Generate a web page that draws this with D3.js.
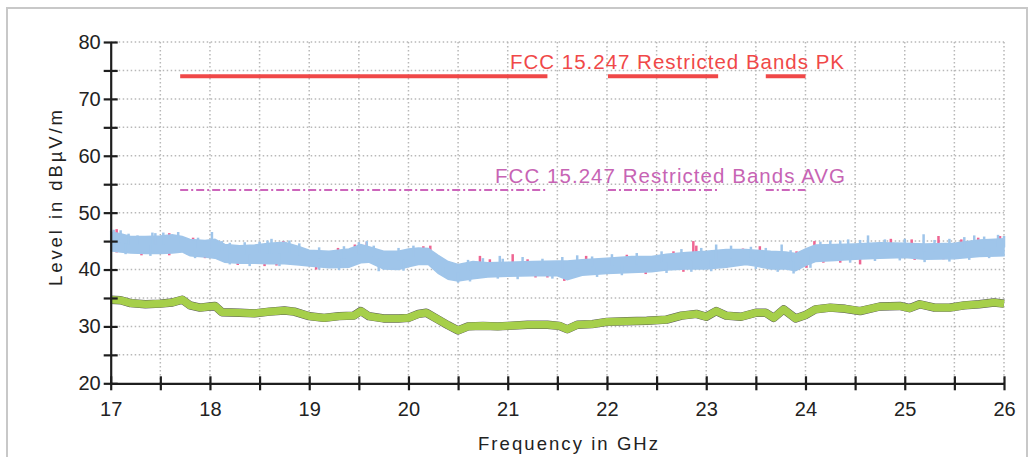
<!DOCTYPE html>
<html>
<head>
<meta charset="utf-8">
<script src="https://d3js.org/d3.v7.min.js"></script>
<style>
    body { margin: 0; background: #fff; }
    svg { display: block; font-family: "Liberation Sans", Arial, Helvetica, sans-serif; }
    .axis path, .axis line { stroke: #1e1e1e; stroke-width: 2.2; }
    .axis text { font-size: 20px; fill: #222; }
    .grid line { stroke: #b8b8b8; stroke-width: 1.5; stroke-dasharray: 1.5, 2.5; }
</style>
</head>
<body>
<script>

    // ==== data ==== //
    var xTicks = [17, 18, 19, 20, 21, 22, 23, 24, 25, 26];
    var yTicks = [20, 30, 40, 50, 60, 70, 80];

    // restricted bands (GHz)
    var bandStart = [17.7, 22.01, 23.6];
    var bandEnd = [21.4, 23.12, 24.0];
    var limitPK = 74;
    var limitAVG = 54;

    // peak trace envelope (blue)
    var pkFreq = [17.0, 17.1, 17.2, 17.35, 17.5, 17.62, 17.72, 17.8, 17.95, 18.05, 18.15, 18.3, 18.45, 18.6, 18.75, 18.9,
        19.0, 19.2, 19.4, 19.52, 19.6, 19.75, 19.9, 20.0, 20.1, 20.2, 20.3, 20.4, 20.5, 20.65, 20.8, 21.0, 21.25, 21.5,
        21.6, 21.75, 22.0, 22.25, 22.45, 22.6, 22.8, 23.0, 23.2, 23.4, 23.5, 23.65, 23.8, 23.9, 24.0, 24.1, 24.3, 24.5,
        24.75, 25.0, 25.2, 25.5, 25.75, 26.0];
    var pkHigh = [46.6, 46.3, 45.8, 45.8, 45.9, 46.1, 45.8, 45.3, 45.1, 45.3, 44.4, 44.2, 44.3, 44.6, 44.8, 44.0,
        43.4, 43.2, 43.6, 44.4, 44.0, 43.2, 43.2, 43.6, 43.8, 43.7, 42.5, 41.4, 40.9, 41.4, 41.2, 41.3, 41.4, 41.5,
        41.5, 41.7, 42.0, 42.3, 42.3, 42.7, 43.0, 43.2, 43.5, 43.5, 43.4, 43.2, 43.1, 42.8, 43.6, 44.3, 44.4, 44.5,
        44.7, 44.6, 44.5, 44.6, 45.2, 45.4];
    var pkLow = [43.3, 43.1, 42.9, 42.8, 42.8, 42.9, 43.1, 42.4, 42.2, 42.0, 41.3, 41.1, 41.1, 41.0, 41.0, 40.8,
        40.6, 40.3, 40.4, 41.2, 41.3, 40.1, 40.0, 40.5, 40.9, 40.9, 39.3, 38.3, 38.0, 38.4, 38.7, 38.8, 38.9, 38.9,
        38.2, 39.0, 39.3, 39.5, 39.6, 39.9, 40.1, 40.1, 40.4, 40.9, 40.6, 40.1, 40.1, 39.8, 40.7, 41.4, 41.6, 41.8,
        42.0, 42.1, 41.8, 41.9, 42.3, 42.4];

    // spikes of the second peak trace (pink) poking out of the band
    var pinkFreq = [17.06, 17.06, 17.31, 17.59, 17.59, 17.83, 17.95, 18.28, 18.55, 18.67, 18.74, 18.87, 19.07, 19.29,
        19.46, 19.58, 19.81, 20.15, 20.22, 20.45, 20.72, 20.82, 21.05, 21.2, 21.28, 21.4, 21.57, 21.6, 21.79, 21.95,
        22.2, 22.39, 22.45, 22.67, 22.77, 22.87, 22.9, 23.2, 23.37, 23.54, 23.91, 24.01, 24.09, 24.18, 24.35, 24.55,
        24.86, 25.07, 25.1, 25.34, 25.39, 25.57, 25.74, 25.96];
    var pinkTip = [47.1, 43.0, 42.5, 46.4, 42.5, 45.6, 42.0, 40.8, 40.6, 40.7, 45.0, 43.8, 40.0, 43.8,
        44.4, 44.8, 43.2, 44.1, 44.2, 38.9, 42.4, 41.8, 42.7, 41.8, 38.6, 38.6, 38.0, 41.2, 42.4, 41.8,
        42.6, 39.2, 39.7, 43.2, 39.6, 45.0, 44.2, 40.3, 43.7, 44.1, 43.2, 40.3, 45.0, 41.2, 41.2, 40.9,
        45.4, 45.3, 41.7, 45.9, 41.8, 45.3, 45.6, 45.9];

    // single samples of the blue trace sticking out of the band
    var blueSpikeFreq = [17.03, 17.1, 17.15, 17.18, 17.27, 17.4, 17.42, 17.45, 17.53, 17.68, 17.85, 17.88, 18.02, 18.12,
        18.2, 18.2, 18.35, 18.4, 18.5, 18.58, 18.62, 18.7, 18.8, 18.9, 19.1, 19.1, 19.3, 19.35, 19.5, 19.58, 19.65,
        19.7, 19.9, 19.95, 20.05, 20.35, 20.5, 20.6, 20.62, 20.75, 20.9, 20.92, 20.95, 21.1, 21.15, 21.35, 21.45,
        21.55, 21.7, 21.85, 21.9, 22.05, 22.15, 22.3, 22.55, 22.6, 22.75, 22.85, 22.95, 23.05, 23.1, 23.25, 23.45,
        23.5, 23.6, 23.72, 23.76, 23.85, 23.88, 24.05, 24.15, 24.25, 24.35, 24.43, 24.45, 24.55, 24.63, 24.7, 24.8,
        24.95, 25.0, 25.19, 25.2, 25.3, 25.45, 25.45, 25.6, 25.65, 25.7, 25.8, 25.85, 25.94, 26.0];
    var blueSpikeTip = [47.0, 46.9, 42.7, 46.3, 46.0, 42.4, 46.5, 46.4, 46.5, 46.6, 42.0, 45.6, 46.6, 45.0,
        44.7, 40.9, 44.8, 40.6, 44.9, 45.1, 45.4, 40.6, 45.1, 44.6, 43.9, 40.0, 39.9, 44.1, 44.8, 45.0, 44.2,
        39.7, 43.8, 39.8, 44.2, 38.9, 37.7, 41.7, 37.9, 42.0, 38.4, 42.4, 41.9, 38.3, 42.2, 41.9, 38.4,
        42.2, 42.5, 42.3, 38.7, 42.7, 39.0, 42.9, 43.2, 39.4, 43.6, 39.6, 43.8, 39.7, 44.4, 44.2, 44.0,
        40.1, 43.8, 39.6, 44.4, 43.4, 39.3, 40.3, 44.9, 45.1, 45.1, 45.3, 41.2, 45.2, 46.0, 41.5, 45.3,
        41.6, 45.4, 46.2, 41.3, 45.2, 45.4, 41.4, 45.7, 41.7, 46.0, 45.8, 42.0, 46.1, 45.9];

    // average trace (green)
    var avFreq = [17.0, 17.1, 17.2, 17.35, 17.5, 17.62, 17.72, 17.8, 17.9, 18.0, 18.05, 18.12, 18.3, 18.45, 18.6, 18.75,
        18.85, 19.0, 19.15, 19.3, 19.45, 19.52, 19.6, 19.75, 19.9, 20.0, 20.1, 20.18, 20.3, 20.4, 20.5, 20.6, 20.75,
        20.9, 21.0, 21.2, 21.4, 21.52, 21.6, 21.7, 21.85, 22.0, 22.2, 22.4, 22.6, 22.75, 22.9, 23.0, 23.1, 23.2, 23.35,
        23.5, 23.6, 23.68, 23.78, 23.9, 24.0, 24.1, 24.25, 24.4, 24.55, 24.75, 24.95, 25.05, 25.15, 25.3, 25.45, 25.6,
        25.75, 25.9, 26.0];
    var avLevel = [34.7, 34.6, 34.1, 33.9, 34.0, 34.2, 34.7, 33.7, 33.3, 33.5, 33.6, 32.5, 32.4, 32.3, 32.6, 32.8,
        32.6, 31.8, 31.5, 31.8, 31.9, 32.7, 31.8, 31.4, 31.4, 31.5, 32.2, 32.4, 31.2, 30.2, 29.3, 30.0, 30.1,
        30.0, 30.1, 30.3, 30.3, 30.1, 29.5, 30.3, 30.4, 30.8, 30.9, 31.0, 31.2, 31.9, 32.2, 31.7, 32.7, 31.9, 31.7,
        32.4, 32.4, 31.5, 33.0, 31.4, 32.0, 33.0, 33.3, 33.1, 32.7, 33.5, 33.6, 33.2, 33.9, 33.3, 33.3, 33.7,
        33.9, 34.2, 34.0];

    // ==== layout ==== //
    var W = 1031, H = 457;
    var plotLeft = 110.7, plotRight = 1004, plotTop = 42, plotBottom = 383.3;

    var svg = d3.select("body").append("svg")
        .attr("width", W)
        .attr("height", H);

    // outer frame
    svg.append("rect")
        .attr("x", 7).attr("y", 8)
        .attr("width", 1020).attr("height", 480)
        .attr("fill", "#fff")
        .attr("stroke", "#c8c8c8")
        .attr("stroke-width", 2);

    var x = d3.scaleLinear().domain([17, 26]).range([plotLeft, plotRight]);
    var y = d3.scaleLinear().domain([20, 80]).range([plotBottom, plotTop]);

    var xAll = d3.range(17, 26.01, 0.5);
    var yAll = d3.range(20, 80.01, 5);

    // grid
    var grid = svg.append("g").attr("class", "grid");
    grid.selectAll(".gx").data(xAll.slice(1)).enter().append("line")
        .attr("x1", function (d) { return x(d); })
        .attr("x2", function (d) { return x(d); })
        .attr("y1", plotTop).attr("y2", plotBottom);
    grid.selectAll(".gy").data(yAll.slice(1)).enter().append("line")
        .attr("x1", plotLeft).attr("x2", plotRight)
        .attr("y1", function (d) { return y(d); })
        .attr("y2", function (d) { return y(d); });

    // limit lines
    var bands = bandStart.map(function (s, i) { return [s, bandEnd[i]]; });

    svg.selectAll(".pk").data(bands).enter().append("line")
        .attr("x1", function (d) { return x(d[0]); })
        .attr("x2", function (d) { return x(d[1]); })
        .attr("y1", y(limitPK)).attr("y2", y(limitPK))
        .attr("stroke", "#f04848")
        .attr("stroke-width", 4);

    svg.selectAll(".avg").data(bands).enter().append("line")
        .attr("x1", function (d) { return x(d[0]); })
        .attr("x2", function (d) { return x(d[1]); })
        .attr("y1", y(limitAVG)).attr("y2", y(limitAVG))
        .attr("stroke", "#cc66bb")
        .attr("stroke-width", 2)
        .attr("stroke-dasharray", "8,3,2,3");

    svg.append("text")
        .attr("x", 510).attr("y", 69)
        .attr("textLength", 334)
        .attr("lengthAdjust", "spacing")
        .style("font-size", "20.5px")
        .style("fill", "#f04848")
        .text("FCC 15.247 Restricted Bands PK");

    svg.append("text")
        .attr("x", 495).attr("y", 183)
        .attr("textLength", 350)
        .attr("lengthAdjust", "spacing")
        .style("font-size", "20.5px")
        .style("fill", "#c764b4")
        .text("FCC 15.247 Restricted Bands AVG");

    // pink trace spikes (behind the blue band)
    var mid = d3.scaleLinear().domain(pkFreq).range(pkFreq.map(function (f, i) { return (pkHigh[i] + pkLow[i]) / 2; }));

    svg.selectAll(".pink").data(pinkFreq).enter().append("line")
        .attr("x1", function (d) { return x(d); })
        .attr("x2", function (d) { return x(d); })
        .attr("y1", function (d) { return y(mid(d)); })
        .attr("y2", function (d, i) { return y(pinkTip[i]); })
        .attr("stroke", "#ee6592")
        .attr("stroke-width", 2.5);

    // blue peak band
    var band = d3.area()
        .x(function (d, i) { return x(pkFreq[i]); })
        .y0(function (d, i) { return y(pkLow[i]); })
        .y1(function (d, i) { return y(pkHigh[i]); });

    svg.append("path")
        .datum(pkFreq)
        .attr("d", band)
        .attr("fill", "#9fc5ea")
        .attr("stroke", "#9fc5ea")
        .attr("stroke-width", 1.5);

    svg.selectAll(".bspike").data(blueSpikeFreq).enter().append("line")
        .attr("x1", function (d) { return x(d); })
        .attr("x2", function (d) { return x(d); })
        .attr("y1", function (d) { return y(mid(d)); })
        .attr("y2", function (d, i) { return y(blueSpikeTip[i]); })
        .attr("stroke", "#9fc5ea")
        .attr("stroke-width", 2.5);

    // average traces
    var avLine = d3.line()
        .x(function (d, i) { return x(avFreq[i]); })
        .y(function (d) { return y(d); });

    svg.append("path")
        .datum(avLevel)
        .attr("d", avLine)
        .attr("fill", "none")
        .attr("stroke", "#5a5a5a")
        .attr("stroke-width", 8.4)
        .attr("stroke-linejoin", "round");

    svg.append("path")
        .datum(avLevel)
        .attr("d", avLine)
        .attr("fill", "none")
        .attr("stroke", "#a6cf4a")
        .attr("stroke-width", 7.6)
        .attr("stroke-linejoin", "round");

    // axes
    var yAxis = d3.axisLeft(y)
        .tickValues(yAll)
        .tickSize(7)
        .tickPadding(3)
        .tickSizeOuter(0)
        .tickFormat(function (d) { return d % 10 === 0 ? d : ""; });

    var gy = svg.append("g")
        .attr("class", "axis")
        .attr("transform", "translate(" + plotLeft + ",0)")
        .call(yAxis);
    gy.selectAll(".tick line").attr("x1", 7);

    var xAxis = d3.axisBottom(x)
        .tickValues(xAll)
        .tickSize(7)
        .tickPadding(12)
        .tickSizeOuter(0)
        .tickFormat(function (d) { return d % 1 === 0 ? d : ""; });

    var gx = svg.append("g")
        .attr("class", "axis")
        .attr("transform", "translate(0," + plotBottom + ")")
        .call(xAxis);
    gx.selectAll(".tick line").attr("y1", -7);

    // titles
    svg.append("text")
        .attr("x", 568).attr("y", 450)
        .attr("text-anchor", "middle")
        .attr("textLength", 180)
        .attr("lengthAdjust", "spacing")
        .style("font-size", "18.5px")
        .style("fill", "#222")
        .text("Frequency in GHz");

    svg.append("text")
        .attr("transform", "translate(62,198) rotate(-90)")
        .attr("text-anchor", "middle")
        .attr("textLength", 176)
        .attr("lengthAdjust", "spacing")
        .style("font-size", "18.5px")
        .style("fill", "#222")
        .text("Level in dBµV/m");

</script>
</body>
</html>
